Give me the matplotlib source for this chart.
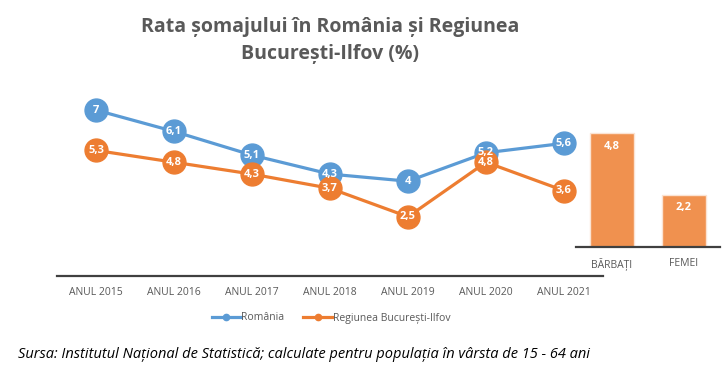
import matplotlib
matplotlib.use("Agg")
import matplotlib.pyplot as plt
from matplotlib.lines import Line2D

plt.rcParams['font.family'] = ['Open Sans', 'DejaVu Sans']

years = ["ANUL 2015", "ANUL 2016", "ANUL 2017", "ANUL 2018", "ANUL 2019", "ANUL 2020", "ANUL 2021"]
romania = [7, 6.1, 5.1, 4.3, 4, 5.2, 5.6]
bucuresti = [5.3, 4.8, 4.3, 3.7, 2.5, 4.8, 3.6]
sex_labels = ["BĂRBAȚI", "FEMEI"]
sex_values = [4.8, 2.2]

BLUE = "#5B9BD5"
ORANGE = "#ED7D31"
BAR = "#F0914F"
GRAY = "#595959"
AXIS = "#404040"

W, H = 728, 370
fig = plt.figure(figsize=(W / 100, H / 100), dpi=100)

def px_axes(x0, y_top, x1, y_bot):
    return fig.add_axes([x0 / W, 1 - y_bot / H, (x1 - x0) / W, (y_bot - y_top) / H])

def fmt(v):
    s = ("%g" % v).replace(".", ",")
    return s

# line chart
ax = px_axes(57, 276 - 8 * 23.7, 603, 276)
xs = list(range(len(years)))
ax.plot(xs, romania, color=BLUE, lw=2.3, marker='o', ms=16.5, mfc=BLUE, mec=BLUE, zorder=3)
ax.plot(xs, bucuresti, color=ORANGE, lw=2.3, marker='o', ms=16.5, mfc=ORANGE, mec=ORANGE, zorder=4)
for x, v in zip(xs, romania):
    ax.text(x, v, fmt(v), ha='center', va='center', color='white', fontsize=8, fontweight='bold', zorder=5)
for x, v in zip(xs, bucuresti):
    ax.text(x, v, fmt(v), ha='center', va='center', color='white', fontsize=8, fontweight='bold', zorder=6)
ax.set_xlim(-0.5, len(years) - 0.5)
ax.set_ylim(0, 8)
ax.set_xticks(xs)
ax.set_xticklabels(years, fontsize=7.5, color=GRAY)
ax.tick_params(axis='x', length=0, pad=8)
ax.set_yticks([])
for s in ['top', 'right', 'left']:
    ax.spines[s].set_visible(False)
ax.spines['bottom'].set_color(AXIS)
ax.spines['bottom'].set_linewidth(1.6)
ax.patch.set_alpha(0)

# bar chart
bx = px_axes(576, 247 - 8 * 23.7, 720, 247)
bxs = list(range(len(sex_labels)))
bx.bar(bxs, sex_values, width=0.6, color=BAR, edgecolor="#FBE3D3", linewidth=1)
for x, v in zip(bxs, sex_values):
    bx.text(x, v - 0.55, fmt(v), ha='center', va='center', color='white', fontsize=8, fontweight='bold')
bx.set_xlim(-0.5, 1.5)
bx.set_ylim(0, 8)
bx.set_xticks(bxs)
bx.set_xticklabels(sex_labels, fontsize=7.5, color=GRAY)
bx.tick_params(axis='x', length=0, pad=8)
bx.set_yticks([])
for s in ['top', 'right', 'left']:
    bx.spines[s].set_visible(False)
bx.spines['bottom'].set_color(AXIS)
bx.spines['bottom'].set_linewidth(1.6)
bx.patch.set_alpha(0)

# title
fig.text(330 / W, 1 - 27 / H, "Rata șomajului în România și Regiunea", ha='center', va='center',
         fontsize=14, fontweight='bold', color=GRAY)
fig.text(330 / W, 1 - 54 / H, "București-Ilfov (%)", ha='center', va='center',
         fontsize=14, fontweight='bold', color=GRAY)

# legend
handles = [Line2D([0], [0], color=BLUE, lw=2.3, marker='o', ms=4.5),
           Line2D([0], [0], color=ORANGE, lw=2.3, marker='o', ms=4.5)]
fig.legend(handles, ["România", "Regiunea București-Ilfov"], loc='center', bbox_to_anchor=(331 / W, 1 - 318 / H),
           ncol=2, frameon=False, fontsize=7.5, labelcolor=GRAY, handlelength=2.8, handletextpad=0.05,
           columnspacing=1.8)

fig.text(18 / W, 1 - 355 / H, "Sursa: Institutul Național de Statistică; calculate pentru populația în vârsta de 15 - 64 ani",
         ha='left', va='center', fontsize=10.5, style='italic', color='#000000')

fig.savefig("out.png", dpi=100)
